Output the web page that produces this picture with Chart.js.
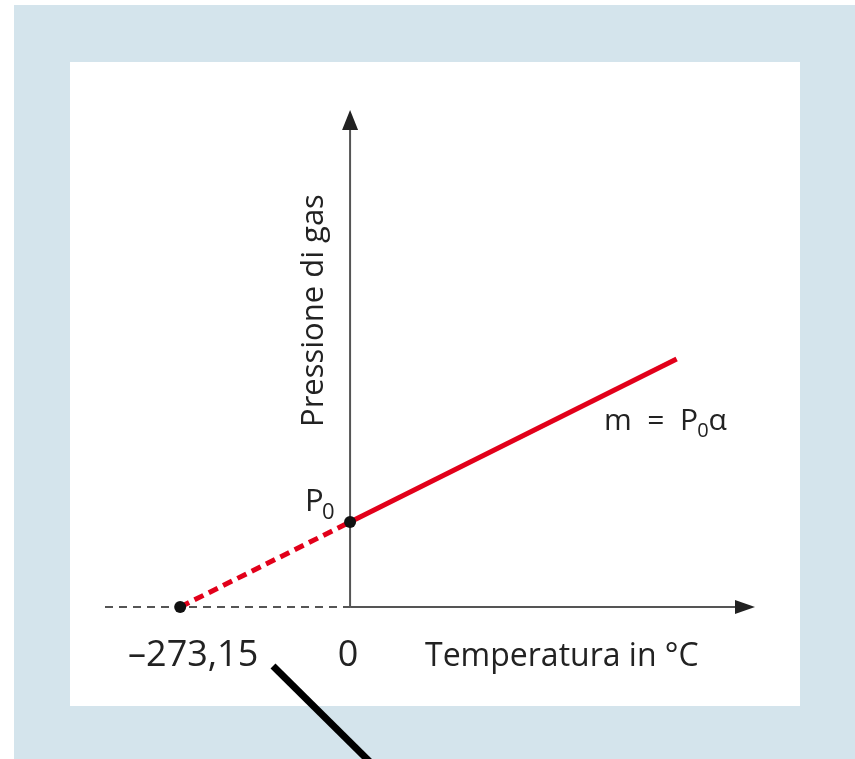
<!DOCTYPE html>
<html>
<head>
<meta charset="utf-8">
<script src="https://cdn.jsdelivr.net/npm/chart.js@4"></script>
<style>
  html, body { margin: 0; padding: 0; background: #fff; }
  #wrap { position: relative; width: 855px; height: 759px; overflow: hidden; }
  #blue { position: absolute; left: 14px; top: 5px; width: 841px; height: 754px; background: #d4e4ec; }
  #panel { position: absolute; left: 70px; top: 62px; width: 730px; height: 644px; background: #fff; }
  #chart { position: absolute; left: 0; top: 0; }
</style>
</head>
<body>
<div id="wrap">
  <div id="blue"></div>
  <div id="panel"></div>
  <canvas id="chart" width="855" height="759"></canvas>
</div>
<script>
// temperature (°C) and gas pressure (in units of P0)
const extrapTemps = [-273.15, 0];
const extrapPressures = [0, 1];
const measuredTemps = [0, 525];
const measuredPressures = [1, 2.92];

const xTickValues = [-273.15, 0];
const xTickLabels = ['\u2013273,15', '0'];

const xTitle = 'Temperatura in \u00b0C';
const yTitle = 'Pressione di gas';
const slopeLabel = ['m = P', '0', '\u03b1'];

const RED = '#e2001a';
const AXIS = '#555';
const TEXT = '#222';
const FONT = '"Open Sans", "Noto Sans", sans-serif';

const toPoints = (xs, ys) => xs.map((x, i) => ({ x, y: ys[i] }));

const axesPlugin = {
  id: 'axes',
  beforeDatasetsDraw(chart) {
    const { ctx, chartArea, scales } = chart;
    const x0 = scales.x.getPixelForValue(0);
    const y0 = scales.y.getPixelForValue(0);
    ctx.save();
    ctx.strokeStyle = AXIS;
    ctx.fillStyle = '#222';
    ctx.lineWidth = 2;

    // dashed negative part of the x axis
    ctx.setLineDash([8, 6]);
    ctx.beginPath();
    ctx.moveTo(chartArea.left, y0);
    ctx.lineTo(x0, y0);
    ctx.stroke();
    ctx.setLineDash([]);

    // x axis with arrow
    ctx.beginPath();
    ctx.moveTo(x0, y0);
    ctx.lineTo(chartArea.right - 15, y0);
    ctx.stroke();
    ctx.beginPath();
    ctx.moveTo(chartArea.right, y0);
    ctx.lineTo(chartArea.right - 20, y0 - 7);
    ctx.lineTo(chartArea.right - 20, y0 + 7);
    ctx.closePath();
    ctx.fill();

    // y axis with arrow
    ctx.beginPath();
    ctx.moveTo(x0, y0);
    ctx.lineTo(x0, chartArea.top + 15);
    ctx.stroke();
    ctx.beginPath();
    ctx.moveTo(x0, chartArea.top);
    ctx.lineTo(x0 - 8, chartArea.top + 20);
    ctx.lineTo(x0 + 8, chartArea.top + 20);
    ctx.closePath();
    ctx.fill();
    ctx.restore();
  },
  afterDraw(chart) {
    const { ctx, scales } = chart;
    const x0 = scales.x.getPixelForValue(0);
    const y0 = scales.y.getPixelForValue(0);
    const yP0 = scales.y.getPixelForValue(1);
    ctx.save();
    ctx.fillStyle = TEXT;
    ctx.textBaseline = 'alphabetic';

    // x tick labels
    ctx.font = '500 36px ' + FONT;
    ctx.textAlign = 'center';
    xTickValues.forEach((v, i) => {
      const px = scales.x.getPixelForValue(v);
      ctx.fillText(xTickLabels[i], px + (v < 0 ? 13 : -2), y0 + 59);
    });

    // x axis title
    ctx.font = '500 32px ' + FONT;
    ctx.textAlign = 'left';
    ctx.fillText(xTitle, 425, y0 + 59);

    // y axis title, rotated
    ctx.save();
    ctx.translate(x0 - 27, y0 - 180);
    ctx.rotate(-Math.PI / 2);
    ctx.font = '500 31px ' + FONT;
    ctx.textAlign = 'left';
    ctx.fillText(yTitle, 0, 0);
    ctx.restore();

    // P0 label
    ctx.textAlign = 'left';
    ctx.font = '500 31px ' + FONT;
    ctx.fillText('P', x0 - 45, yP0 - 11);
    ctx.font = '500 22px ' + FONT;
    ctx.fillText('0', x0 - 28, yP0 - 3);

    // slope label
    let tx = 604;
    const ty = 430;
    ctx.font = '500 30px ' + FONT;
    ctx.fillText('m  =  P', tx, ty);
    tx += ctx.measureText('m  =  P').width - 1;
    ctx.font = '500 20px ' + FONT;
    ctx.fillText(slopeLabel[1], tx, ty + 7);
    tx += ctx.measureText(slopeLabel[1]).width;
    ctx.font = '500 30px ' + FONT;
    ctx.fillText(slopeLabel[2], tx, ty);

    // pointer line running off the bottom
    ctx.strokeStyle = '#000';
    ctx.lineWidth = 7;
    ctx.beginPath();
    ctx.moveTo(273, 666);
    ctx.lineTo(370, 762);
    ctx.stroke();
    ctx.restore();
  }
};

new Chart(document.getElementById('chart'), {
  type: 'line',
  data: {
    datasets: [
      {
        data: toPoints(extrapTemps, extrapPressures),
        showLine: false,
        clip: false,
        pointRadius: 6,
        pointBackgroundColor: '#111',
        pointBorderWidth: 0
      },
      {
        data: toPoints(extrapTemps, extrapPressures),
        borderColor: RED,
        borderWidth: 5,
        borderDash: [10, 6],
        borderCapStyle: 'butt',
        pointRadius: 0
      },
      {
        data: toPoints(measuredTemps, measuredPressures),
        borderColor: RED,
        borderWidth: 5,
        borderCapStyle: 'butt',
        pointRadius: 0
      }
    ]
  },
  options: {
    responsive: false,
    animation: false,
    devicePixelRatio: 1,
    events: [],
    layout: { padding: { left: 105, right: 100, top: 110, bottom: 152 } },
    plugins: { legend: { display: false }, tooltip: { enabled: false } },
    scales: {
      x: { type: 'linear', min: -394, max: 651, display: false },
      y: { type: 'linear', min: 0, max: 5.85, display: false }
    }
  },
  plugins: [axesPlugin]
});
</script>
</body>
</html>
